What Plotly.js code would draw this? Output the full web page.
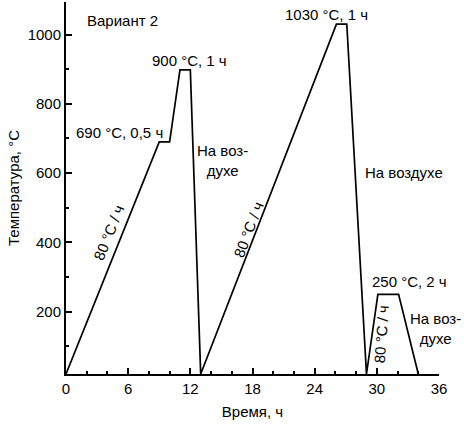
<!DOCTYPE html>
<html>
<head>
<meta charset="utf-8">
<script src="https://cdn.plot.ly/plotly-3.0.1.min.js"></script>
<style>html,body{margin:0;padding:0;background:#fff;}#chart{width:464px;height:425px;}</style>
</head>
<body>
<div id="chart"></div>
<script>
// Heat treatment schedule (time in hours, temperature in °C)
const timeH = [0, 9.0, 10.0, 11.0, 12.0, 13.0, 26.1, 27.1, 29.0, 30.1, 32.1, 34.0];
const tempC = [20, 690, 690, 898, 898, 20, 1030, 1030, 20, 250, 250, 20];
const xTickVals = [0, 6, 12, 18, 24, 30, 36];
const yTickVals = [200, 400, 600, 800, 1000];

const F = {family: '"Liberation Sans", Arial, sans-serif', size: 15, color: '#000'};

const trace = {
  x: timeH, y: tempC, type: 'scatter', mode: 'lines',
  line: {color: '#000', width: 1.7},
  hoverinfo: 'skip', showlegend: false
};

function ann(text, x, y, extra) {
  return Object.assign({text: text, x: x, y: y, xref: 'x', yref: 'y', showarrow: false,
    font: F, xanchor: 'center', yanchor: 'middle'}, extra || {});
}

const layout = {
  width: 464, height: 425,
  margin: {l: 66, r: 25, t: 2, b: 51},
  paper_bgcolor: '#fff', plot_bgcolor: '#fff',
  font: F,
  xaxis: {
    range: [0, 36], tickvals: xTickVals, ticktext: xTickVals.map(String),
    ticks: 'inside', ticklen: 6, tickwidth: 2, tickcolor: '#000',
    minor: {dtick: 2, tick0: 0, ticks: 'inside', ticklen: 3, tickwidth: 2, tickcolor: '#000', showgrid: false},
    showline: true, linewidth: 2, linecolor: '#000', mirror: false,
    showgrid: false, zeroline: false, tickfont: F,
    title: {text: 'Время, ч', font: F, standoff: 10}
  },
  yaxis: {
    range: [20, 1094], tickvals: yTickVals, ticktext: yTickVals.map(String),
    ticks: 'inside', ticklen: 6, tickwidth: 2, tickcolor: '#000',
    minor: {dtick: 100, tick0: 0, ticks: 'inside', ticklen: 3, tickwidth: 2, tickcolor: '#000', showgrid: false},
    showline: true, linewidth: 2, linecolor: '#000', mirror: false,
    showgrid: false, zeroline: false, tickfont: F,
    title: {text: 'Температура, °C', font: F, standoff: 4}
  },
  annotations: [
    ann('Вариант 2', 5.45, 1040),
    ann('900 °C, 1 ч', 11.95, 926),
    ann('690 °C, 0,5 ч', 5.2, 718),
    ann('На воз-<br>духе', 15.15, 637),
    ann('1030 °C, 1 ч', 25.1, 1058),
    ann('На воздухе', 32.6, 602),
    ann('250 °C, 2 ч', 33.2, 287),
    ann('На воз-<br>духе', 35.7, 151),
    ann('80 °C / ч', 4.15, 428, {textangle: -68}),
    ann('80 °C / ч', 17.6, 438, {textangle: -69}),
    ann('80 °C / ч', 30.4, 135, {textangle: -86})
  ]
};

Plotly.newPlot('chart', [trace], layout, {displayModeBar: false, staticPlot: true});
</script>
</body>
</html>
